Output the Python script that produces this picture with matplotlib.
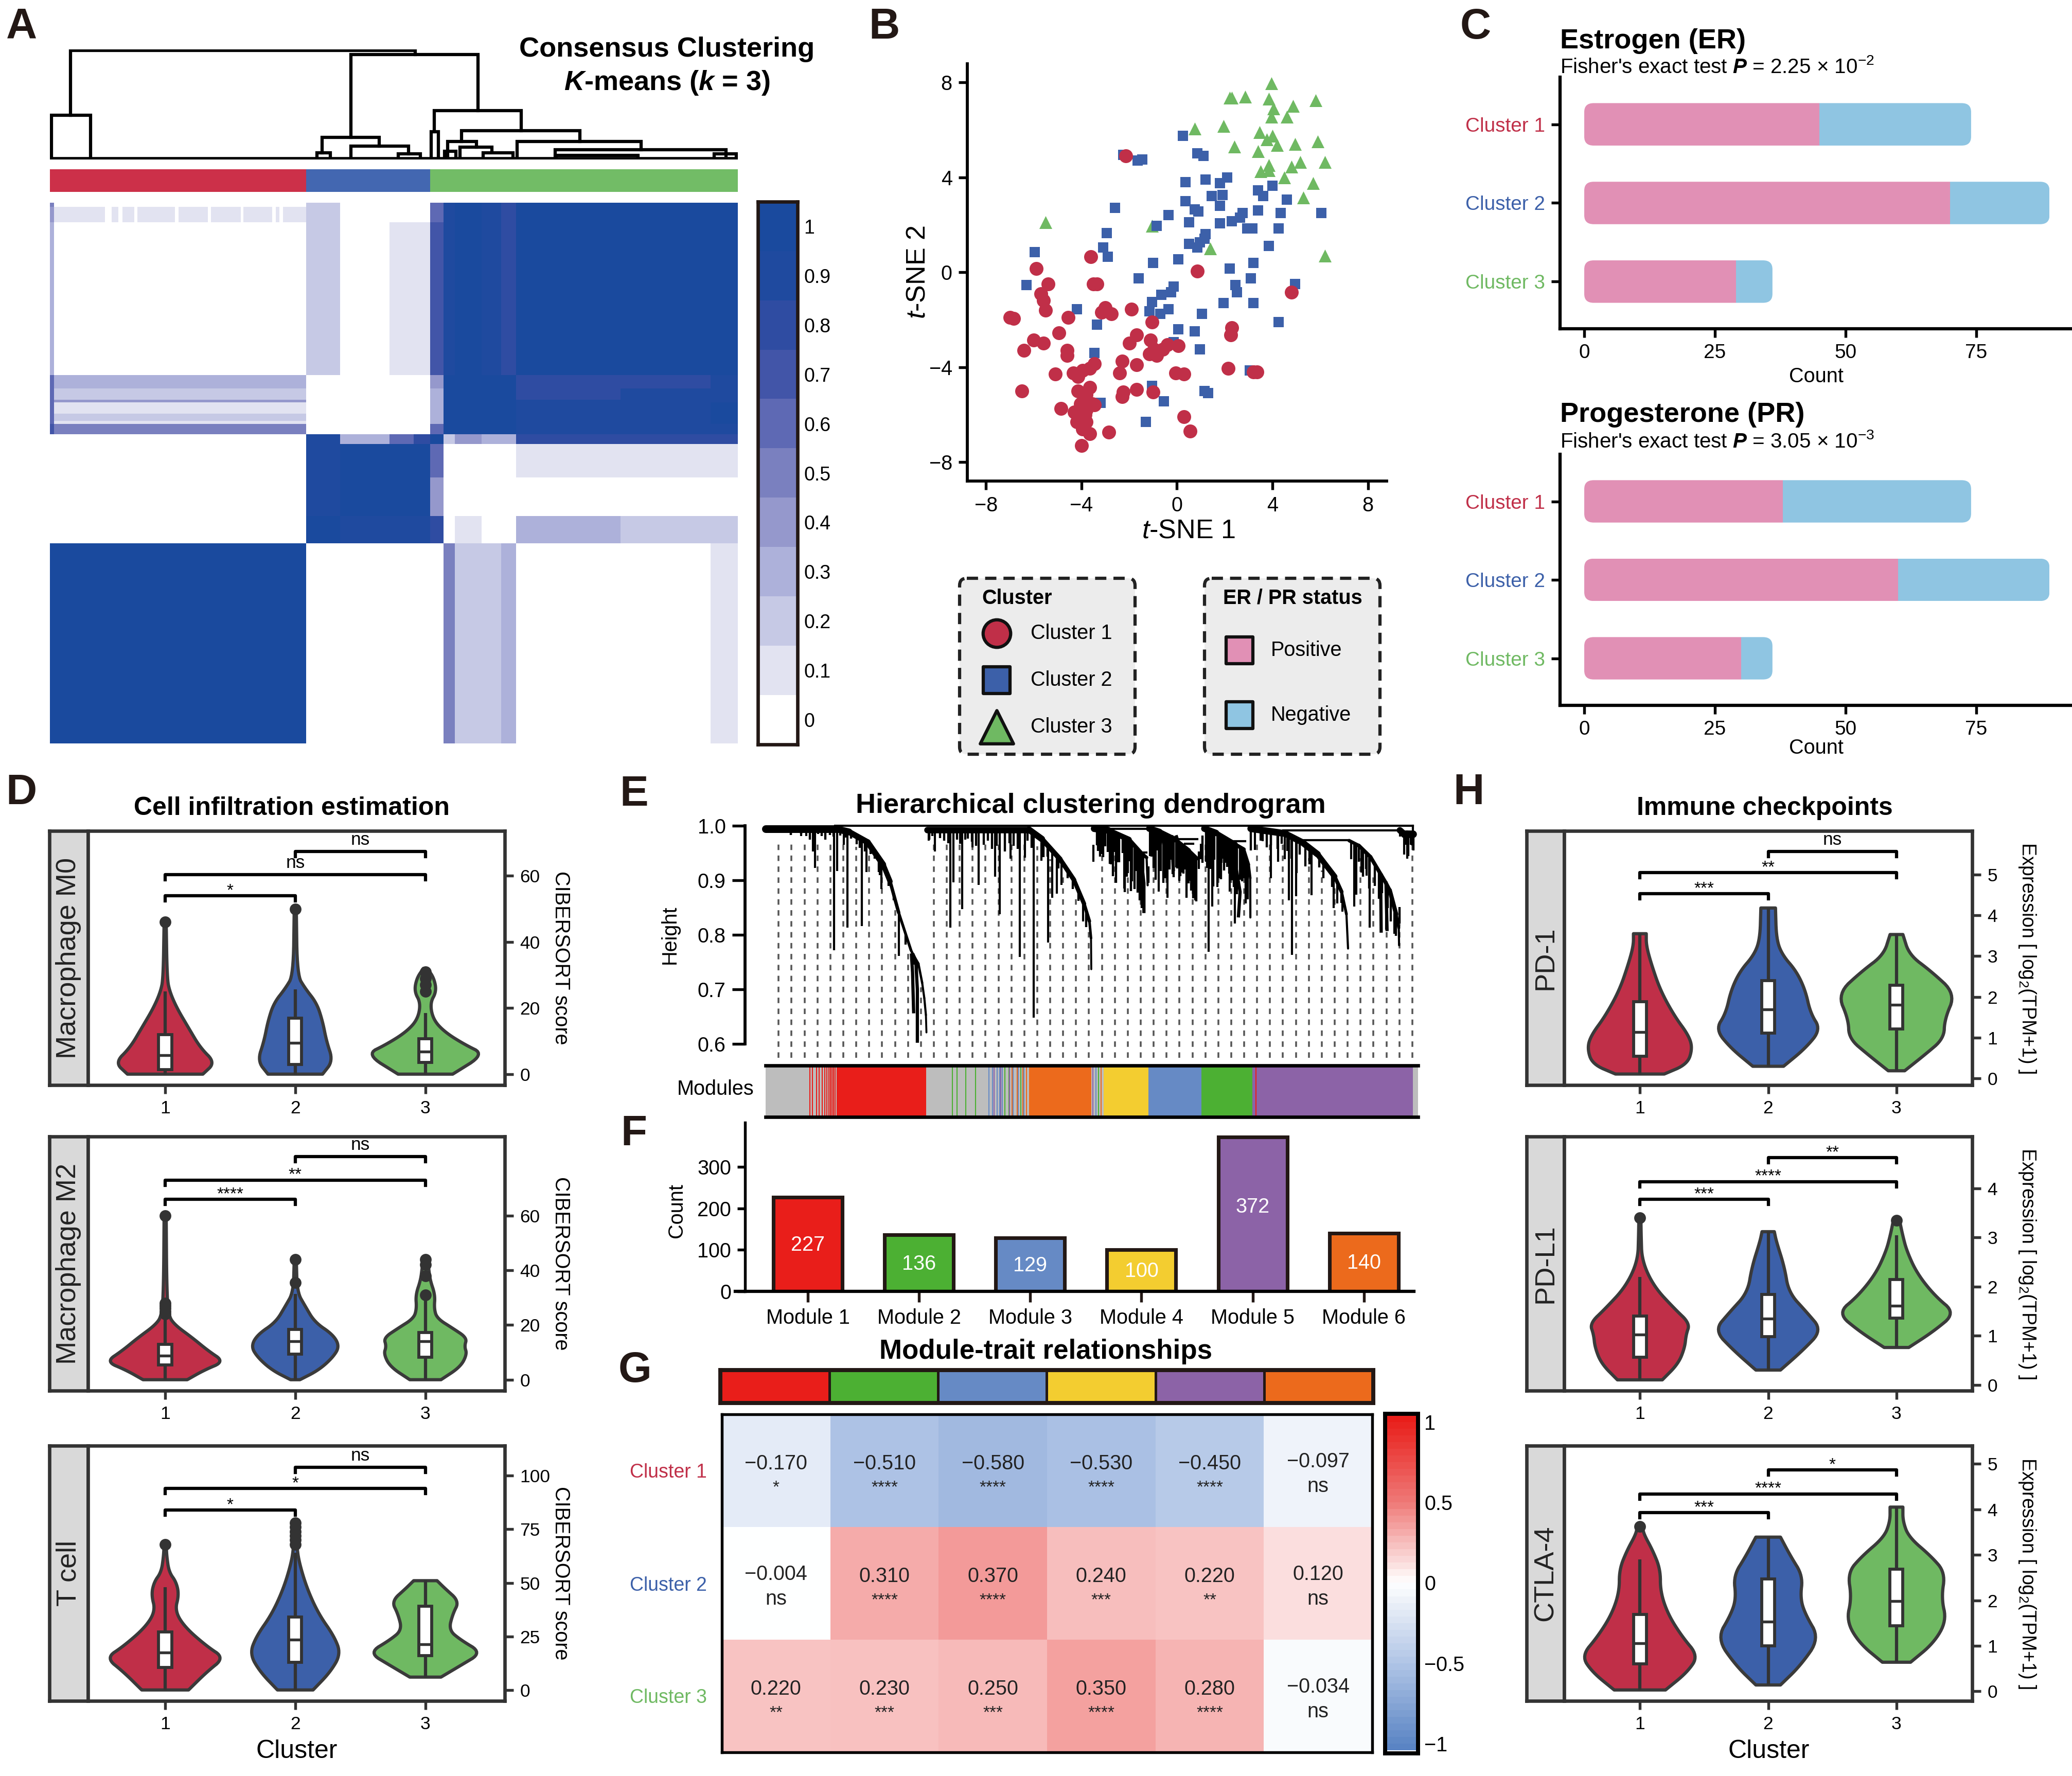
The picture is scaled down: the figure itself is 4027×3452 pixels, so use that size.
import numpy as np
import matplotlib
matplotlib.use("Agg")
import matplotlib.pyplot as plt
from matplotlib.colors import ListedColormap, LinearSegmentedColormap, Normalize
from matplotlib.patches import FancyBboxPatch, Rectangle

plt.rcParams.update({
    "font.family": ["Liberation Sans", "DejaVu Sans"],
    "mathtext.fontset": "custom",
    "mathtext.rm": "Liberation Sans",
    "mathtext.it": "Liberation Sans:italic",
    "mathtext.bf": "Liberation Sans:bold",
    "mathtext.bfit": "Liberation Sans:italic:bold",
    "mathtext.default": "regular",
})

W, H = 4028, 3452
DPI = 300
DARK = "#231815"
C1, C2, C3 = "#c02f48", "#3c60a9", "#6fb962"
CLUSTER_COLORS = [C1, C2, C3]
CLUSTER_NAMES = ["Cluster 1", "Cluster 2", "Cluster 3"]
PINK, SKY = "#e190b5", "#8fc5e2"
MOD = {"red": "#e91e1a", "green": "#4cb033", "blue": "#668ac5", "yellow": "#f3cd30",
       "purple": "#8c63a7", "orange": "#ec6a1c", "gray": "#bdbdbd"}

# ---------------- A: consensus matrix ----------------
A_col_edges = [0, 8, 470, 533, 623, 668, 698, 723, 743, 793, 828, 856, 1048, 1213, 1263]
A_row_edges = [0, 8, 40, 348, 375, 398, 403, 426, 441, 447, 468, 488, 555, 633, 688, 1093]
A_matrix = [
    [.45, 0, .15, 0, 0, 0, .6, .9, 1, .9, .8, .95, 1, 1],
    [.4, .1, .15, 0, 0, 0, .6, .9, 1, .9, .8, .95, 1, 1],
    [.3, 0, .2, 0, .05, .1, .7, .9, .95, .9, .8, 1, 1, .95],
    [.55, .3, 0, 0, 0, 0, .4, 1, 1, 1, 1, .75, .8, .85],
    [.6, .2, 0, 0, 0, 0, .35, 1, 1, 1, 1, .8, .85, .9],
    [.6, .4, 0, 0, 0, 0, .35, 1, 1, 1, 1, .85, .85, .9],
    [.6, .1, 0, 0, 0, 0, .3, 1, 1, 1, 1, .9, .9, .95],
    [.6, .2, 0, 0, 0, 0, .3, 1, 1, 1, 1, .9, .9, .95],
    [.6, .1, 0, 0, 0, 0, .3, 1, 1, 1, 1, .9, .9, .95],
    [.65, .45, 0, 0, 0, 0, .6, 1, 1, 1, 1, .85, .85, .9],
    [0, 0, .9, .3, .6, .75, .95, .15, .4, .3, .3, .8, .8, .75],
    [0, 0, .9, 1, .95, .95, .55, 0, 0, 0, 0, .1, .1, .05],
    [0, 0, .9, 1, 1, 1, .4, 0, 0, 0, 0, 0, 0, 0],
    [0, 0, 1, .85, .85, .9, .8, 0, .05, 0, 0, .25, .2, .15],
    [1, 1, 0, 0, 0, 0, 0, .5, .15, .2, .3, 0, 0, .1],
]
# white gaps of the faint top band (start, end)
A_band_gaps = [(101, 113), (126, 133), (155, 161), (230, 236), (290, 296), (350, 355), (408, 415), (421, 428)]
A_levels = ["#ffffff", "#e2e3f1", "#c6c9e5", "#adb1da", "#9598cc", "#7a80bf",
            "#5e69b4", "#4255a8", "#2f4ca2", "#1f4a9f", "#1a4a9e"]
A_tick_labels = ["0", "0.1", "0.2", "0.3", "0.4", "0.5", "0.6", "0.7", "0.8", "0.9", "1"]
A_cluster_sizes = [470, 228, 565]
# dendrogram links: left x, right x, left drop height, right drop height, top height
A_links = [
    (38, 671, 88, 212, 220), (553, 786, 43, 97, 212), (3, 75, 0, 0, 88),
    (500, 605, 12, 25, 43), (553, 658, 0, 10, 25), (706, 865, 55, 57, 97),
    (700, 713, 0, 0, 55), (756, 973, 35, 35, 57), (730, 783, 0, 23, 35),
    (753, 811, 0, 15, 23), (858, 1085, 0, 18, 35), (928, 1241, 5, 6, 18),
    (490, 515, 0, 0, 12), (640, 680, 0, 0, 10), (725, 745, 0, 0, 15),
    (795, 850, 0, 0, 12), (1220, 1260, 0, 0, 10), (930, 1080, 0, 0, 6),
]

# ---------------- B: t-SNE ----------------
tsne_c1 = [(-7.0, -1.9), (-6.85, -1.95), (-5.9, .15), (-5.4, -.5), (-5.7, -.9), (-5.6, -1.2), (-5.5, -1.6),
           (-3.6, .65), (-3.5, -.5), (-3.35, -.5), (-1.9, -1.55), (-4.55, -1.9), (-3.15, -1.7), (-3.0, -1.5),
           (-2.75, -1.75), (-1.05, -2.1), (-4.95, -2.55), (-6.0, -2.85), (-5.6, -3.0), (-6.4, -3.3), (-4.6, -3.3),
           (-4.6, -3.5), (-1.7, -2.65), (-2.0, -3.0), (-1.1, -2.85), (-.95, -3.25), (-1.15, -3.45), (-.85, -3.5),
           (-.6, -3.25), (-.4, -3.05), (.05, -3.1), (-3.45, -3.85), (-3.65, -4.05), (-3.95, -4.15), (-4.35, -4.25),
           (-5.1, -4.3), (-4.15, -4.4), (-2.3, -3.75), (-1.7, -3.9), (-2.4, -4.25), (-.05, -4.25), (.3, -4.3),
           (2.15, -4.05), (3.2, -4.2), (3.35, -4.2), (2.3, -2.35), (2.25, -2.65), (.85, .05), (4.8, -.85),
           (-2.15, 4.9), (-6.5, -5.0), (-4.15, -5.0), (-3.65, -4.85), (-3.8, -5.15), (-2.25, -5.05), (-2.3, -5.25),
           (-1.7, -4.95), (-1.0, -5.05), (-4.85, -5.75), (-4.05, -5.55), (-3.45, -5.6), (-4.3, -5.9), (-3.85, -6.0),
           (-4.2, -6.3), (-3.8, -6.3), (-3.95, -6.6), (-3.65, -6.8), (-2.85, -6.75), (.3, -6.1), (.55, -6.7),
           (-4.0, -7.3), (-3.55, -5.55), (-3.8, -5.8)]
tsne_c2 = [(.25, 5.75), (.85, 5.0), (1.1, 4.9), (-2.25, 4.95), (-1.65, 4.7), (-1.45, 4.75), (.35, 3.8), (1.2, 3.9),
           (1.8, 3.75), (2.1, 4.0), (4.0, 3.65), (3.4, 3.45), (3.6, 3.2), (1.9, 3.25), (1.45, 3.2), (.35, 3.0),
           (4.6, 3.05), (.75, 2.65), (.9, 2.55), (1.8, 2.8), (-2.6, 2.7), (3.4, 2.6), (4.35, 2.5), (6.05, 2.5),
           (-.35, 2.4), (2.75, 2.5), (2.65, 2.3), (2.3, 2.15), (1.8, 2.05), (.5, 2.1), (-.85, 1.95), (2.95, 1.85),
           (3.15, 1.85), (4.25, 1.85), (-2.95, 1.65), (1.2, 1.6), (1.15, 1.4), (.5, 1.2), (.95, 1.25), (.85, 1.05),
           (-3.1, 1.05), (-5.95, .85), (3.85, 1.1), (-2.9, .65), (.05, .55), (-1.0, .4), (3.2, .4), (2.2, .15),
           (-1.6, -.25), (3.1, -.25), (-6.3, -.55), (2.45, -.55), (4.95, -.5), (-.15, -.6), (2.5, -.85), (-.25, -.85),
           (-.65, -.95), (-1.05, -1.25), (1.95, -1.3), (3.2, -1.3), (-4.2, -1.55), (-1.15, -1.65), (-.35, -1.55),
           (-.7, -1.75), (1.05, -1.75), (4.25, -2.1), (-3.35, -2.2), (.05, -2.4), (.75, -2.5), (-.15, -2.95),
           (.95, -3.25), (-3.45, -3.4), (3.05, -4.15), (-1.05, -4.8), (1.15, -5.0), (1.3, -5.1), (-3.2, -5.5),
           (-.55, -5.45), (-1.3, -6.3)]
tsne_c3 = [(3.95, 7.95), (2.2, 7.35), (2.3, 7.35), (2.85, 7.4), (3.85, 7.3), (5.8, 7.25), (4.05, 6.9), (4.85, 7.0),
           (3.95, 6.55), (4.6, 6.55), (.75, 6.05), (1.95, 6.15), (3.45, 5.9), (4.0, 5.75), (3.75, 5.6), (4.2, 5.35),
           (4.95, 5.4), (5.9, 5.5), (2.4, 5.3), (3.4, 5.1), (5.15, 4.65), (6.2, 4.65), (3.85, 4.5), (4.8, 4.45),
           (3.5, 4.25), (3.85, 4.3), (4.5, 4.0), (5.7, 3.75), (5.3, 3.15), (-5.5, 2.1), (-1.05, 1.95), (1.4, 1.0),
           (6.2, .7)]

# ---------------- C: ER / PR counts ----------------
ER_positive = [45, 70, 29]
ER_negative = [29, 19, 7]
PR_positive = [38, 60, 30]
PR_negative = [36, 29, 6]

# ---------------- D / H violins: (value, half width) knots, and box stats ----------------
M0_profiles = [
    [(0, .29), (3.5, .385), (8, .27), (14, .18), (20, .09), (25, .035), (29, .015), (46, .008)],
    [(0, .21), (4, .29), (10, .24), (16, .21), (21.5, .165), (26, .075), (30, .015), (50, .008)],
    [(0, .21), (6, .455), (9, .3), (12.7, .15), (16.5, .06), (21.5, .036), (25, .085), (29, .067), (32, .015)],
]
M0_boxes = [(0, 1.4, 5.8, 12, 25), (0, 3, 9.5, 17, 25.7), (0, 3.5, 6.8, 10.7, 18.5)]
M0_outliers = [[46], [50], [25, 27, 29, 31]]
M2_profiles = [
    [(0, .17), (3.5, .3), (6.6, .455), (10.6, .33), (15.3, .21), (20, .075), (23.5, .025), (34, .012), (60, .008)],
    [(0, .036), (3.5, .18), (8.2, .29), (12.2, .34), (16.5, .29), (21, .15), (27, .075), (32, .015), (44, .008)],
    [(0, .12), (4.7, .27), (9.4, .32), (12.2, .3), (15.3, .32), (18.8, .21), (22.4, .09), (26, .067), (31, .075),
     (36.5, .036), (41, .025), (44.7, .01)],
]
M2_boxes = [(0, 5.4, 8.7, 13, 22.4), (0, 9.4, 14, 18.4, 31.3), (0, 8.2, 14, 17.2, 30.6)]
M2_outliers = [[60, 28, 27, 26, 25, 24], [44, 35.5], [44, 42, 38, 31]]
TC_profiles = [
    [(0, .18), (8.4, .32), (15, .455), (20.4, .32), (29.4, .15), (37, .075), (44.4, .106), (50.4, .085), (55, .03),
     (62.5, .012), (68.5, .008)],
    [(0, .137), (8.4, .27), (16.8, .35), (25, .3), (35.4, .18), (47.4, .09), (59.5, .03), (67, .012), (78, .008)],
    [(6, .12), (11.4, .27), (17.4, .435), (23.4, .27), (28, .18), (35.4, .21), (41.4, .26), (47.4, .15), (51, .09)],
]
TC_boxes = [(0, 10.5, 17.4, 27, 48), (0, 13, 23.4, 34, 64), (6, 16, 21.3, 39, 51)]
TC_outliers = [[68], [68, 70, 72, 74, 76, 78], []]

PD1_profiles = [
    [(.11, .19), (.35, .37), (.74, .41), (1.06, .38), (1.53, .27), (2.16, .16), (2.8, .09), (3.26, .05), (3.55, .05)],
    [(.3, .12), (.74, .29), (1.2, .41), (1.6, .33), (2.16, .29), (2.63, .22), (3.03, .11), (3.42, .064), (4.18, .057)],
    [(.19, .064), (.58, .22), (.98, .37), (1.45, .375), (2.08, .46), (2.63, .27), (3.03, .1), (3.53, .05)],
]
PD1_boxes = [(.11, .55, 1.14, 1.88, 3.55), (.3, 1.12, 1.69, 2.4, 4.18), (.19, 1.21, 1.81, 2.29, 3.53)]
PDL1_profiles = [
    [(.1, .175), (.43, .3), (.76, .35), (1.02, .36), (1.25, .39), (1.55, .27), (2.0, .11), (2.53, .016), (3.05, .01),
     (3.42, .008)],
    [(.3, .096), (.7, .27), (1.11, .42), (1.48, .3), (1.88, .16), (2.4, .127), (2.92, .064), (3.12, .048)],
    [(.76, .096), (1.09, .29), (1.46, .46), (1.81, .3), (2.27, .16), (2.73, .08), (3.05, .048), (3.34, .025)],
]
PDL1_boxes = [(.1, .56, 1.02, 1.4, 2.2), (.3, .98, 1.35, 1.84, 3.12), (.76, 1.36, 1.61, 2.14, 3.05)]
PDL1_outliers = [[3.4], [], [3.35]]
CTLA4_profiles = [
    [(.03, .2), (.42, .37), (.78, .455), (1.2, .33), (1.69, .22), (2.19, .16), (2.68, .16), (3.1, .1), (3.46, .03),
     (3.64, .02)],
    [(.14, .096), (.56, .25), (1.16, .4), (1.69, .29), (2.05, .25), (2.54, .27), (2.97, .175), (3.39, .096)],
    [(.64, .11), (1.06, .29), (1.55, .39), (2.05, .35), (2.61, .38), (2.97, .27), (3.39, .096), (3.74, .05), (4.05, .05)],
]
CTLA4_boxes = [(.03, .6, 1.06, 1.69, 2.9), (.14, 1.0, 1.53, 2.47, 3.39), (.64, 1.44, 1.98, 2.68, 4.05)]
CTLA4_outliers = [[3.62], [], []]

# ---------------- E: WGCNA dendrogram ----------------
E_b1_x = [0, 130, 156, 191, 220, 233, 249, 272, 276.5, 286, 293, 297, 300, 301]
E_b1_h = [.995, .995, .989, .97, .929, .898, .841, .772, .763, .747, .712, .684, .653, .621]
E_b2_x = [302, 493, 517, 551, 577, 596, 606, 609, 609.5]
E_b2_h = [.993, .993, .976, .939, .901, .857, .825, .794, .737]
E_b3_x = [615, 641, 680, 702, 713, 715]
E_b3_h = [.995, .992, .975, .951, .942, .891]
E_b4_x = [718, 737, 766, 792, 808]
E_b4_h = [.995, .989, .975, .955, .94]
E_b5_x = [821, 843, 879, 895, 904, 907, 907.2]
E_b5_h = [.995, .987, .966, .957, .929, .904, .832]
E_b6_x = [908, 972, 1004, 1033, 1065, 1078, 1087, 1090]
E_b6_h = [.995, .986, .97, .948, .907, .879, .838, .775]
E_b7_x = [1092, 1110, 1132, 1152, 1161, 1168, 1180, 1185, 1185.5]
E_b7_h = [.973, .964, .943, .91, .895, .882, .838, .813, .781]
E_b8_x = [1187, 1195, 1200, 1211]
E_b8_h = [.992, .985, .985, .985]
E_branches = [(E_b1_x, E_b1_h), (E_b2_x, E_b2_h), (E_b3_x, E_b3_h), (E_b4_x, E_b4_h),
              (E_b5_x, E_b5_h), (E_b6_x, E_b6_h), (E_b7_x, E_b7_h), (E_b8_x, E_b8_h)]
E_side_branches = [
    [(276.5, .763), (281, .753), (284, .7), (284, .605)], [(273, .763), (275, .731), (277, .659)],
    [(702, .948), (708, .895), (708, .843)], [(742, .983), (753, .926)], [(769, .98), (782, .94), (795, .904)],
    [(760, .98), (763, .92)], [(869, .957), (880, .926), (888, .879), (885, .835)],
    [(1151, .91), (1152, .807)], [(1161, .895), (1163, .81)],
]
E_long_x = [47, 66, 76, 88.6, 92.5, 128, 134, 146, 153.5, 180, 189, 214, 217, 249, 305.4, 316.6, 345.5, 351.3, 364,
            367.4, 374, 387.3, 398.5, 429, 438, 458, 475.6, 485, 502, 516.4, 529, 536.6, 545, 553.3, 594, 613.7,
            629.7, 647.4, 655.4, 670.8, 678, 684.3, 692.3, 698.8, 706.8, 719.6, 735.7, 751.7, 761.4, 794, 801.5,
            811, 814.4, 828.9, 836.2, 845, 853, 861, 869, 878.6, 915.6, 926.8, 945.4, 959, 971.8, 979, 985, 992.6,
            994, 1021.5, 1063, 1069.7, 1079.3, 1095.4, 1101.8, 1105, 1114.7, 1124.3, 1130.7, 1151.6, 1161.2, 1177,
            1187, 1195, 1200.4, 1209.4]
E_long_bottom = [.983, .981, .981, .953, .923, .772, .917, .965, .813, .816, .915, .91, .884, .761, .973, .953, .813,
                 .896, .967, .847, .975, .961, .892, .907, .838, .94, .76, .942, .648, .936, .786, .868, .876, .892,
                 .825, .965, .948, .948, .92, .885, .913, .917, .917, .9, .895, .945, .879, .868, .912, .899, .907,
                 .921, .939, .769, .852, .888, .932, .932, .879, .821, .956, .973, .904, .934, .939, .863, .763,
                 .871, .913, .873, .849, .858, .843, .939, .852, .874, .914, .909, .813, .807, .81, .802, .98, .947,
                 .94, .964]
E_short_x = [10, 22, 35, 47, 58, 66, 75, 83, 90, 98, 105, 112, 120, 127, 140, 150, 160, 170, 176, 186, 196, 204, 212,
             230, 240, 262, 278, 283, 306, 312, 326, 334, 342, 358, 366, 378, 386, 394, 408, 416, 424, 432, 448, 456,
             464, 472, 490, 498, 520, 528, 548, 565, 575, 585, 600, 620, 626, 640, 646, 652, 660, 668, 680, 686, 692,
             698, 706, 716, 728, 734, 740, 746, 752, 760, 768, 774, 780, 786, 792, 798, 806, 818, 826, 840, 848, 856,
             868, 874, 878, 888, 896, 908, 930, 938, 946, 958, 966, 976, 984, 1000, 1010, 1018, 1036, 1044, 1060,
             1078, 1104, 1110, 1118, 1124, 1130, 1140, 1148, 1154, 1164, 1170, 1180, 1186, 1198, 1203, 1208, 1212]
E_short_len = [.004, .006, .005, .012, .006, .01, .008, .02, .012, .01, .014, .02, .012, .015, .01, .012, .01, .015,
               .018, .02, .015, .012, .025, .015, .01, .02, .015, .03, .018, .012, .015, .02, .025, .018, .02, .016,
               .022, .03, .028, .02, .035, .03, .04, .025, .03, .035, .02, .03, .03, .02, .02, .015, .02, .02, .03,
               .03, .05, .04, .06, .035, .05, .03, .04, .07, .03, .05, .04, .03, .05, .035, .07, .04, .06, .04, .05,
               .07, .05, .04, .06, .03, .08, .05, .07, .05, .08, .04, .06, .05, .07, .06, .05, .04, .02, .03, .025,
               .03, .02, .03, .04, .025, .04, .03, .02, .03, .025, .02, .04, .03, .05, .03, .06, .04, .05, .03, .04,
               .05, .04, .03, .02, .04, .02, .03]
E_dense_x = [622, 632, 636, 644, 650, 656, 662, 672, 676, 684, 690, 696, 700, 704,
             722, 726, 730, 744, 748, 756, 764, 770, 776, 782, 788, 796, 800, 804,
             824, 832, 838, 852, 858, 864, 872, 876, 882, 892, 898, 902]
E_dense_len = [.04, .05, .03, .06, .08, .09, .05, .1, .07, .09, .08, .08, .09, .1,
               .05, .07, .09, .09, .08, .06, .07, .05, .06, .05, .09, .07, .08, .08,
               .06, .07, .1, .08, .06, .05, .07, .08, .09, .06, .09, .07]
# horizontal merges: x start, x end, height
E_merges = [(130, 1211, 1.0), (641, 715, .995), (969, 1188, .992), (1004, 1092, .974), (742, 808, .976),
            (785, 800, .967), (865, 897, .972), (702, 713, .951)]
E_module_edges = [0, 81, 133, 300, 348, 493, 610, 633, 716, 816, 911, 933, 1211, 1221]
E_module_names = ["gray", "gray", "red", "gray", "gray", "orange", "gray", "yellow", "blue", "green", "purple",
                  "purple", "gray"]
E_stripes = {
    "red": [83, 88, 95, 100, 106, 111, 115, 118, 121, 124, 127, 130, 918],
    "green": [350, 358, 375, 393, 448, 455, 478, 623],
    "blue": [418, 425, 433, 438, 443, 463, 473, 483, 618],
    "purple": [428, 440, 456, 612, 960],
    "orange": [461, 471, 481, 488, 628],
}

# ---------------- F / G ----------------
F_labels = ["Module 1", "Module 2", "Module 3", "Module 4", "Module 5", "Module 6"]
F_counts = [227, 136, 129, 100, 372, 140]
F_colors = ["red", "green", "blue", "yellow", "purple", "orange"]
G_order = ["red", "green", "blue", "yellow", "purple", "orange"]
G_values = [[-.170, -.510, -.580, -.530, -.450, -.097],
            [-.004, .310, .370, .240, .220, .120],
            [.220, .230, .250, .350, .280, -.034]]
G_signif = [["*", "****", "****", "****", "****", "ns"],
            ["ns", "****", "****", "***", "**", "ns"],
            ["**", "***", "***", "****", "****", "ns"]]


def ax_px(x0, y0, x1, y1, **kw):
    return fig.add_axes([x0 / W, 1 - y1 / H, (x1 - x0) / W, (y1 - y0) / H], **kw)


fig = plt.figure(figsize=(W / DPI, H / DPI), dpi=DPI, facecolor="white")

# ===== A =====
ax = ax_px(97, 394, 1434, 1445)
A_cmap = ListedColormap(A_levels)
A_norm = Normalize(-.05, 1.05)
ax.pcolormesh(A_col_edges, A_row_edges, np.array(A_matrix), cmap=A_cmap, norm=A_norm, shading="flat")
for g0, g1 in A_band_gaps:
    ax.fill_between([g0, g1], 8, 40, color="white", linewidth=0)
ax.set_ylim(A_row_edges[-1], 0)
ax.axis("off")

ax = ax_px(97, 329, 1434, 373)
left = 0
for n, c in zip(A_cluster_sizes, ["#cc3049", "#4367b1", "#72bc66"]):
    ax.barh(0, n, left=left, height=1, color=c)
    left += n
ax.set_xlim(0, sum(A_cluster_sizes))
ax.set_ylim(-.5, .5)
ax.axis("off")

ax = ax_px(97, 96, 1434, 310)
for xl, xr, hl, hr, ht in A_links:
    ax.plot([xl, xl, xr, xr], [hl, ht, ht, hr], color="black", lw=1.5, solid_joinstyle="miter")
ax.plot([0, 1263], [0, 0], color="black", lw=1.6)
ax.set_xlim(0, 1263)
ax.set_ylim(-2, 222)
ax.axis("off")

ax = ax_px(1473, 392, 1550, 1447)
ax.imshow(np.arange(10, -1, -1).reshape(-1, 1) / 10, cmap=A_cmap, norm=A_norm, aspect="auto", extent=(0, 1, -.5, 10.5))
ax.set_xticks([])
ax.set_yticks(range(11), A_tick_labels)
ax.yaxis.tick_right()
ax.tick_params(axis="y", length=0, labelsize=9, pad=3)
for s in ax.spines.values():
    s.set_linewidth(1.6)
    s.set_color(DARK)

# ===== B =====
ax = ax_px(1880, 124, 2695, 935)
for pts, col, mk, sz in [(tsne_c3, C3, "^", 36), (tsne_c2, C2, "s", 25), (tsne_c1, C1, "o", 42)]:
    arr = np.array(pts)
    ax.scatter(arr[:, 0], arr[:, 1], c=col, marker=mk, s=sz, linewidths=0, zorder=3)
ax.set_xlim(-8.78, 8.78)
ax.set_ylim(-8.8, 8.78)
ax.set_xticks([-8, -4, 0, 4, 8])
ax.set_yticks([-8, -4, 0, 4, 8])
ax.tick_params(labelsize=9.5, width=1.3, length=4, pad=3)
for s in ["top", "right"]:
    ax.spines[s].set_visible(False)
for s in ["left", "bottom"]:
    ax.spines[s].set_linewidth(1.4)


# ===== C =====
def stacked(rect, pos, neg):
    a = ax_px(*rect)
    for i, (p, n) in enumerate(zip(pos, neg)):
        clip = FancyBboxPatch((0, i - .27), p + n, .54, boxstyle="round,pad=0,rounding_size=1.8",
                              mutation_aspect=.0625, fc="none", ec="none", transform=a.transData)
        a.add_patch(clip)
        for b in a.barh(i, p, height=.54, color=PINK, linewidth=0):
            b.set_clip_path(clip)
        for b in a.barh(i, n, left=p, height=.54, color=SKY, linewidth=0):
            b.set_clip_path(clip)
    a.set_xlim(-4.63, 93.4)
    a.set_ylim(2.6, -.6)
    a.set_xticks([0, 25, 50, 75])
    a.set_yticks(range(3), CLUSTER_NAMES)
    for t, c in zip(a.get_yticklabels(), CLUSTER_COLORS):
        t.set_color(c)
    a.tick_params(labelsize=9.3, width=1.3, length=4, pad=3)
    for s in ["top", "right"]:
        a.spines[s].set_visible(False)
    for s in ["left", "bottom"]:
        a.spines[s].set_linewidth(1.5)
    return a


stacked((3032, 150, 4028, 639), ER_positive, ER_negative)
stacked((3032, 883, 4028, 1371), PR_positive, PR_negative)


# ===== D / H =====
def chaikin(prof, n=3):
    p = np.array(prof, dtype=float)
    for _ in range(n):
        q = .75 * p[:-1] + .25 * p[1:]
        r = .25 * p[:-1] + .75 * p[1:]
        m = np.empty((2 * len(q), 2))
        m[0::2], m[1::2] = q, r
        p = np.vstack([p[0], m, p[-1]])
    return p


def violin_panel(rect_strip, rect, xlim, ylim, yticks, profiles, boxes, outliers, name, brackets, marks):
    st = ax_px(*rect_strip)
    st.set_facecolor("#d9d9d9")
    st.set_xticks([])
    st.set_yticks([])
    for s in st.spines.values():
        s.set_linewidth(1.6)
        s.set_color("#333333")
    st.text(.5, .5, name, rotation=90, ha="center", va="center", fontsize=13, transform=st.transAxes, color="#222222")
    a = ax_px(*rect)
    for i, (prof, box, out, col) in enumerate(zip(profiles, boxes, outliers, CLUSTER_COLORS)):
        c = i + 1
        p = chaikin(prof)
        a.fill(np.r_[c - p[:, 1], (c + p[:, 1])[::-1]], np.r_[p[:, 0], p[::-1, 0]], fc=col, ec="#3a3a3a", lw=1.5,
               joinstyle="round", zorder=2)
        lo, q1, med, q3, hi = box
        a.plot([c, c], [lo, hi], color="#333333", lw=1.5, zorder=3, solid_capstyle="butt")
        a.add_patch(Rectangle((c - .05, q1), .1, q3 - q1, fc="white", ec="#333333", lw=1.4, zorder=4))
        a.plot([c - .05, c + .05], [med, med], color="#333333", lw=1.3, zorder=5, solid_capstyle="butt")
        if out:
            a.scatter([c] * len(out), out, s=30, c="#333333", linewidths=0, zorder=5)
    a.set_xlim(*xlim)
    a.set_ylim(*ylim)
    a.set_xticks([1, 2, 3])
    a.set_yticks(yticks)
    a.yaxis.tick_right()
    a.tick_params(labelsize=8.5, width=1.3, length=4, color="#333333", pad=3)
    for s in a.spines.values():
        s.set_linewidth(1.6)
        s.set_color("#333333")
    span = ylim[1] - ylim[0]
    tip = span * 10 / 494
    pairs = [(1, 2), (1, 3), (2, 3)]
    for (x1, x2), yb, m in zip(pairs, brackets, marks):
        a.plot([x1, x1, x2, x2], [yb - tip, yb, yb, yb - tip], color="black", lw=1.5, zorder=6)
        if m == "ns":
            a.text((x1 + x2) / 2, yb + span * .012, m, ha="center", va="bottom", fontsize=8.5)
        else:
            a.text((x1 + x2) / 2, yb - span * .012, m, ha="center", va="bottom", fontsize=8)
    return a


Dx = (.407, 3.61)
Dstrip = [(96, 1615, 171, 2109), (96, 2209, 171, 2703), (96, 2810, 171, 3306)]
Dplot = [(171, 1615, 981, 2109), (171, 2209, 981, 2703), (171, 2810, 981, 3306)]
violin_panel(Dstrip[0], Dplot[0], Dx, (-3.3, 73.6), [0, 20, 40, 60], M0_profiles, M0_boxes, M0_outliers,
             "Macrophage M0", (54, 60.4, 67.4), ("*", "ns", "ns"))
violin_panel(Dstrip[1], Dplot[1], Dx, (-4, 88.9), [0, 20, 40, 60], M2_profiles, M2_boxes, M2_outliers,
             "Macrophage M2", (65.9, 73, 81.6), ("****", "**", "ns"))
violin_panel(Dstrip[2], Dplot[2], Dx, (-5.1, 114), [0, 25, 50, 75, 100], TC_profiles, TC_boxes, TC_outliers,
             "T cell", (84, 94, 104), ("*", "*", "ns"))

Hx = (.41, 3.59)
Hstrip = [(2967, 1615, 3040, 2109), (2967, 2209, 3040, 2703), (2967, 2810, 3040, 3306)]
Hplot = [(3040, 1615, 3833, 2109), (3040, 2209, 3833, 2703), (3040, 2810, 3833, 3306)]
violin_panel(Hstrip[0], Hplot[0], Hx, (-.16, 6.07), range(6), PD1_profiles, PD1_boxes, [[], [], []],
             "PD-1", (4.53, 5.05, 5.57), ("***", "**", "ns"))
violin_panel(Hstrip[1], Hplot[1], Hx, (-.12, 5.06), range(5), PDL1_profiles, PDL1_boxes, PDL1_outliers,
             "PD-L1", (3.78, 4.14, 4.63), ("***", "****", "**"))
violin_panel(Hstrip[2], Hplot[2], Hx, (-.21, 5.4), range(6), CTLA4_profiles, CTLA4_boxes, CTLA4_outliers,
             "CTLA-4", (3.93, 4.34, 4.87), ("***", "****", "*"))

# ===== E =====
ax = ax_px(1448, 1600, 2756, 2056)
env_x = np.concatenate([b[0] for b in E_branches])
env_h = np.concatenate([b[1] for b in E_branches])
for gx in np.arange(24.4, 1222, 24.2):
    ax.plot([gx, gx], [.5745, min(.97, np.interp(gx, env_x, env_h) - .02)], color="#555555", lw=.85,
            ls=(0, (3, 3)), zorder=1)
E_branch_widths = [
    [3.6, 3.2, 2.8, 2.8, 2.4, 1.6, 1.3, 1.2, 1.2, 1.1, 1, 1, .9],
    [3, 3, 2.4, 2.2, 2, 1.6, 1.2, .9],
    [3.2, 2.6, 2, 1.6, 1.0],
    [3, 2.6, 2, 1.6],
    [3, 2.4, 1.8, 1.4, 1.2, 1],
    [3.2, 3, 3, 2.6, 1.8, 1.3, 1],
    [1.6, 1.8, 1.8, 1.8, 1.8, 2, 1.4, 1.0],
    [3, 3.5, 3.5],
]
for (bx, bh), widths in zip(E_branches, E_branch_widths):
    for i, lw in enumerate(widths):
        ax.plot(bx[i:i + 2], bh[i:i + 2], color="black", lw=lw, zorder=3, solid_capstyle="round")
for branch in E_side_branches:
    arr = np.array(branch)
    ax.plot(arr[:, 0], arr[:, 1], color="black", lw=1.5, zorder=3)
ax.vlines(E_long_x, E_long_bottom, np.interp(E_long_x, env_x, env_h), color="black", lw=1.0, zorder=3)
sx = np.array(E_short_x)
stop = np.interp(sx, env_x, env_h)
ax.vlines(sx, stop - np.array(E_short_len), stop, color="black", lw=1.05, zorder=3)
dx = np.array(E_dense_x)
dtop = np.interp(dx, env_x, env_h)
ax.vlines(dx, dtop - np.array(E_dense_len), dtop, color="black", lw=1.05, zorder=3)
for x0, x1, h in E_merges:
    ax.plot([x0, x1], [h, h], color="black", lw=1.0, zorder=3)
ax.plot([1211, 1211], [1.0, .985], color="black", lw=1.0)
ax.set_xlim(-38.5, 1221)
ax.set_ylim(.5745, 1.005)
ax.set_xticks([])
ax.set_yticks([.6, .7, .8, .9, 1.0], ["0.6", "0.7", "0.8", "0.9", "1.0"])
ax.tick_params(axis="y", labelsize=9.5, width=1.3, length=6, pad=3)
for s in ["top", "right", "bottom"]:
    ax.spines[s].set_visible(False)
ax.spines["left"].set_bounds(.6, 1.0)
ax.spines["left"].set_linewidth(1.4)
ax.patch.set_alpha(0)

ax = ax_px(1488, 2071, 2756, 2171)
edges = np.array(E_module_edges)
ax.bar(edges[:-1], 1, width=np.diff(edges), align="edge", color=[MOD[n] for n in E_module_names], linewidth=0)
for name, xs in E_stripes.items():
    ax.vlines(xs, 0, 1, color=MOD[name], lw=.5)
ax.set_xlim(0, 1221)
ax.set_ylim(0, 1)
ax.set_xticks([])
ax.set_yticks([])
for s in ["left", "right"]:
    ax.spines[s].set_visible(False)
for s in ["top", "bottom"]:
    ax.spines[s].set_linewidth(1.6)

# ===== F =====
ax = ax_px(1429, 2182, 2748, 2510)
ax.bar(range(6), F_counts, width=.62, color=[MOD[n] for n in F_colors], edgecolor=DARK, linewidth=1.7)
for i, v in enumerate(F_counts):
    ax.text(i, v / 2 + (17 if v > 300 else -2), str(v), color="white", ha="center", va="center", fontsize=9.5)
ax.set_xlim(-.653, 5.45)
ax.set_ylim(0, 407)
ax.set_xticks(range(6), F_labels)
ax.set_yticks([0, 100, 200, 300])
ax.tick_params(labelsize=9.5, width=1.3, length=3.5, pad=3)
ax.tick_params(axis="x", length=5, color=DARK)
for s in ["top", "right"]:
    ax.spines[s].set_visible(False)
ax.spines["left"].set_position(("data", -.565))
ax.spines["left"].set_linewidth(1.3)
ax.spines["bottom"].set_linewidth(1.5)

# ===== G =====
ax = ax_px(1400, 2663, 2669, 2727)
ax.bar(range(6), 1, width=1, color=[MOD[n] for n in G_order], edgecolor=DARK, linewidth=1.2)
ax.set_xlim(-.5, 5.5)
ax.set_ylim(0, 1)
ax.set_xticks([])
ax.set_yticks([])
for s in ax.spines.values():
    s.set_color(DARK)
    s.set_linewidth(1.9)

G_cmap = LinearSegmentedColormap.from_list("g", [(0, "#5a84c4"), (.25, "#afc4e6"), (.5, "#ffffff"), (.75, "#ef7876"),
                                                 (1, "#e91e1a")])
ax = ax_px(1403, 2749, 2667, 3406)
ax.pcolormesh(np.array(G_values), cmap=G_cmap, vmin=-1, vmax=1)
ax.set_ylim(3, 0)
ax.set_xticks([])
ax.set_yticks([.5, 1.5, 2.5], CLUSTER_NAMES)
for t, c in zip(ax.get_yticklabels(), CLUSTER_COLORS):
    t.set_color(c)
ax.tick_params(axis="y", length=0, labelsize=9, pad=7)
for s in ax.spines.values():
    s.set_linewidth(1.3)
for r in range(3):
    for c in range(6):
        v = G_values[r][c]
        mark = G_signif[r][c]
        txt = f"{v:.3f}".replace("-", "\u2212")
        if mark == "ns":
            ax.text(c + .5, r + .42, txt, ha="center", va="center", fontsize=9.5, color="#222222")
            ax.text(c + .5, r + .64, mark, ha="center", va="center", fontsize=9.5, color="#222222")
        else:
            ax.text(c + .5, r + .44, txt, ha="center", va="center", fontsize=9.5, color="#222222")
            ax.text(c + .5, r + .65, mark, ha="center", va="center", fontsize=8, color="#222222")

ax = ax_px(2692, 2748, 2756, 3408)
ax.imshow(np.linspace(1, -1, 50).reshape(-1, 1), cmap=G_cmap, vmin=-1, vmax=1, aspect="auto", extent=(0, 1, -1.04, 1.04))
ax.set_xticks([])
ax.set_ylim(-1.06, 1.05)
ax.set_yticks([-1, -.5, 0, .5, 1], ["\u22121", "\u22120.5", "0", "0.5", "1"])
ax.yaxis.tick_right()
ax.tick_params(axis="y", length=0, labelsize=9.5, pad=3)
for s in ax.spines.values():
    s.set_linewidth(1.9)

# ===== overlay: free text, legends, panel letters =====
ov = fig.add_axes([0, 0, 1, 1], zorder=20)
ov.set_xlim(0, W)
ov.set_ylim(H, 0)
ov.axis("off")
ov.patch.set_alpha(0)


def T(x, y, s, size=9.5, ha="center", va="center", **kw):
    ov.text(x, y, s, fontsize=size, ha=ha, va=va, **kw)


for letter, x, y in [("A", 42, 53), ("B", 1719, 53), ("C", 2868, 53), ("D", 42, 1541), ("E", 1232, 1544),
                     ("F", 1232, 2204), ("G", 1234, 2664), ("H", 2855, 1541)]:
    T(x, y, letter, size=20, fontweight="bold", color=DARK)

T(1296, 96, "Consensus Clustering", size=13, fontweight="bold")
T(1296, 161, r"$\mathbfit{K}$-means ($\mathbfit{k}$ = 3)", size=13, fontweight="bold")

T(2310, 1032, r"$\mathit{t}$-SNE 1", size=12.5)
T(1784, 529, r"$\mathit{t}$-SNE 2", size=12.5, rotation=90)

for x0 in (1865, 2341):
    ov.add_patch(FancyBboxPatch((x0 + 8, 1132), 325, 326, boxstyle="round,pad=8,rounding_size=14", fc="#ececec",
                                ec="#222222", lw=1.5, ls=(0, (3.5, 2.2))))
T(1908, 1163, "Cluster", ha="left", fontweight="bold")
T(2377, 1163, "ER / PR status", ha="left", fontweight="bold")
for y, col, mk, sz, name in [(1231, C1, "o", 165, "Cluster 1"), (1322, C2, "s", 150, "Cluster 2"),
                             (1413, C3, "^", 240, "Cluster 3")]:
    ov.scatter([1937], [y], c=col, marker=mk, s=sz, edgecolors="#111111", linewidths=1.5)
    T(2003, y, name, ha="left")
for y, col, name in [(1264, PINK, "Positive"), (1390, SKY, "Negative")]:
    ov.scatter([2409], [y], c=col, marker="s", s=150, edgecolors="#111111", linewidths=1.5)
    T(2470, y, name, ha="left")

T(3032, 80, "Estrogen (ER)", size=13, ha="left", fontweight="bold")
T(3032, 131, r"Fisher's exact test $\mathbfit{P}$ = 2.25 × 10$^{-2}$", size=9.7, ha="left")
T(3530, 732, "Count")
T(3032, 806, "Progesterone (PR)", size=13, ha="left", fontweight="bold")
T(3032, 859, r"Fisher's exact test $\mathbfit{P}$ = 3.05 × 10$^{-3}$", size=9.7, ha="left")
T(3530, 1454, "Count")

T(567, 1571, "Cell infiltration estimation", size=12, fontweight="bold")
T(577, 3404, "Cluster", size=12)
T(3430, 1571, "Immune checkpoints", size=12, fontweight="bold")
T(3438, 3404, "Cluster", size=12)
for yc in (1862, 2456, 3058):
    T(1090, yc, "CIBERSORT score", size=9.5, rotation=270)
    T(3940, yc, "Expression [ log$_{2}$(TPM+1) ]", size=9, rotation=270)

T(2120, 1566, "Hierarchical clustering dendrogram", size=13, fontweight="bold")
T(1302, 1817, "Height", size=9.5, rotation=90)
T(1391, 2117, "Modules", size=9.5)
T(1315, 2353, "Count", size=9.5, rotation=90)
T(2033, 2627, "Module-trait relationships", size=12.7, fontweight="bold")

fig.savefig("out.png", dpi=DPI)
